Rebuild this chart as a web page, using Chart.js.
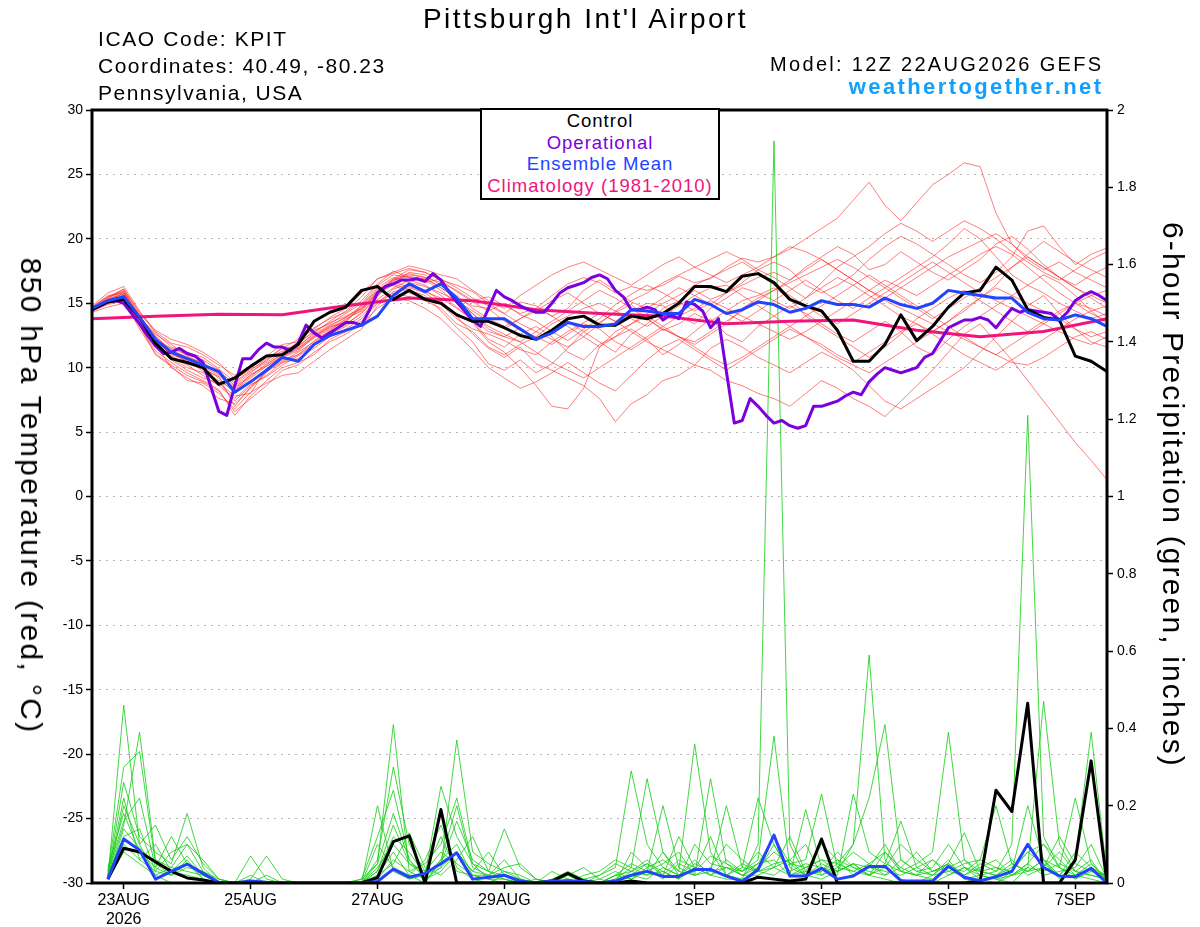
<!DOCTYPE html>
<html>
<head>
<meta charset="utf-8">
<title>Pittsburgh Int'l Airport - GEFS 850 hPa temperature and precipitation</title>
<script src="https://cdn.jsdelivr.net/npm/chart.js@4.4.1/dist/chart.umd.min.js"></script>
<style>
  html, body { margin: 0; padding: 0; background: #fff; }
  #wrap { position: relative; width: 1200px; height: 927px; overflow: hidden;
          font-family: "Liberation Sans", Arial, sans-serif; color: #000; }
  #chart { position: absolute; left: 0; top: 0; }
  .txt { position: absolute; white-space: nowrap; line-height: 1; }
  #legend { position: absolute; left: 480px; top: 108px; width: 240px; height: 92px;
            box-sizing: border-box; border: 2px solid #000; background: #fff;
            font-size: 18.5px; letter-spacing: 1px; text-align: center; }
  #legend div { line-height: 21.7px; height: 21.7px; }
  .vtitle { position: absolute; white-space: nowrap; line-height: 1; font-size: 30px;
            transform: translate(-50%, -50%) rotate(90deg); }
</style>
</head>
<body>
<div id="wrap">
  <canvas id="chart" width="1200" height="927"></canvas>

  <div class="txt" style="left:0; width:1171px; text-align:center; top:4.6px; font-size:28px; letter-spacing:2.5px;">Pittsburgh Int'l Airport</div>
  <div class="txt" style="left:98px; top:28px; font-size:21px; letter-spacing:1.6px;">ICAO Code: KPIT</div>
  <div class="txt" style="left:98px; top:55px; font-size:21px; letter-spacing:1.5px;">Coordinates: 40.49, -80.23</div>
  <div class="txt" style="left:98px; top:81.5px; font-size:21px; letter-spacing:1.5px;">Pennsylvania, USA</div>
  <div class="txt" style="right:96.7px; top:53.8px; font-size:20px; letter-spacing:2.3px;">Model: 12Z 22AUG2026 GEFS</div>
  <div class="txt" style="right:96.6px; top:76.4px; font-size:22px; font-weight:bold; letter-spacing:2.4px; color:#14a0fa;">weathertogether.net</div>

  <div id="legend">
    <div style="color:#000;">Control</div>
    <div style="color:#7a00e0;">Operational</div>
    <div style="color:#2244ff;">Ensemble Mean</div>
    <div style="color:#f0147c;">Climatology (1981-2010)</div>
  </div>

  <div class="vtitle" style="left:30.6px; top:496px; letter-spacing:2.3px;">850 hPa Temperature (red, °C)</div>
  <div class="vtitle" style="left:1173.4px; top:495px; letter-spacing:2.15px;">6-hour Precipitation (green, inches)</div>
</div>

<script>
// time axis: hours after 12Z 22AUG2026
const tempStep = 6;      // members, control, mean
const operStep = 3;      // operational run is 3-hourly
const climoStep = 24;    // daily climatology
const tickHours = [12, 60, 108, 156, 228, 276, 324, 372];
const tickLabels = ['23AUG', '25AUG', '27AUG', '29AUG', '1SEP', '3SEP', '5SEP', '7SEP'];

// 850 hPa temperature (C), 6-hourly from 12Z 22AUG
const tempControl = [
  14.5, 15.1, 15.3, 13.9, 11.9, 10.7, 10.4, 10.0, 8.7, 9.2, 10.1, 10.9, 11.0, 11.8, 13.6, 14.3, 14.7, 16.0, 16.3, 15.3, 16.0,
  15.3, 15.0, 14.1, 13.6, 13.6, 13.1, 12.5, 12.2, 12.9, 13.8, 14.0, 13.3, 13.3, 14.0, 13.8, 14.2, 15.0, 16.3, 16.3, 15.9, 17.1, 17.3,
  16.6, 15.3, 14.8, 14.4, 12.9, 10.5, 10.5, 11.8, 14.1, 12.1, 13.2, 14.7, 15.8, 16.0, 17.8, 16.8, 14.5, 13.9, 13.7, 10.9, 10.5, 9.7
];
const tempMean = [
  14.6, 15.2, 15.5, 13.9, 12.2, 11.2, 10.7, 10.2, 9.7, 8.1, 8.9, 9.8, 10.8, 10.5, 11.8, 12.5, 12.9, 13.3, 14.0, 15.6, 16.5,
  15.9, 16.5, 15.4, 13.8, 13.8, 13.8, 13.0, 12.2, 12.7, 13.5, 13.2, 13.2, 13.4, 14.5, 14.4, 14.2, 14.2, 15.3, 14.9, 14.2, 14.5, 15.1,
  14.9, 14.3, 14.6, 15.2, 14.9, 14.9, 14.7, 15.4, 14.9, 14.6, 15.0, 16.0, 15.8, 15.6, 15.4, 15.4, 14.3, 13.8, 13.7, 14.1, 13.8, 13.2
];
// operational, 3-hourly
const tempOper = [
  14.5, 14.8, 15.1, 15.2, 15.0, 14.2, 13.4, 12.5,
  11.7, 11.1, 11.2, 11.5, 11.1, 10.9, 10.4, 8.5,
  6.6, 6.3, 8.6, 10.7, 10.7, 11.4, 11.9, 11.6,
  11.6, 11.3, 11.9, 13.3, 12.7, 12.3, 12.7, 13.1,
  13.5, 13.5, 13.3, 14.5, 15.8, 16.3, 16.5, 16.8,
  16.8, 16.9, 16.7, 17.3, 16.8, 15.9, 15.1, 14.4,
  13.7, 13.2, 14.6, 16.0, 15.5, 15.2, 14.8, 14.5,
  14.3, 14.3, 15.0, 15.8, 16.2, 16.4, 16.6, 17.0,
  17.2, 16.9, 16.0, 15.5, 14.5, 14.5, 14.7, 14.5,
  13.7, 14.1, 13.8, 15.1, 14.9, 14.4, 13.1, 13.8,
  9.7, 5.7, 5.9, 7.6, 7.0, 6.3, 5.7, 5.9,
  5.5, 5.3, 5.5, 7.0, 7.0, 7.2, 7.4, 7.8,
  8.1, 7.9, 8.9, 9.5, 10.0, 9.8, 9.6, 9.8,
  10.0, 10.8, 11.1, 12.1, 13.1, 13.4, 13.7, 13.7,
  13.9, 13.7, 13.1, 13.9, 14.6, 14.3, 14.5, 14.4,
  14.3, 14.2, 13.7, 14.3, 15.2, 15.6, 15.9, 15.6,
  15.2
];
// 1981-2010 climatology, daily at 12Z
const tempClimo = [13.8, 14.0, 14.15, 14.1, 14.8, 15.4, 15.2, 14.5, 14.2, 14.0, 13.4, 13.6, 13.7, 12.9, 12.4, 12.8, 13.8];

// ensemble members (subset), 6-hourly
const tempMembers = [
  [14.6, 15.4, 16.0, 14.0, 12.5, 11.2, 10.4, 10.0, 9.2, 8.0, 9.0, 9.8, 10.5, 11.2, 12.0, 12.8, 13.4, 14.2, 15.5, 16.8, 17.2,
   17.0, 16.6, 16.0, 15.2, 15.5, 14.8, 14.2, 14.6, 15.6, 16.5, 17.0, 16.6, 15.8, 16.3, 16.0, 16.4, 17.1, 16.6, 16.9, 17.8, 18.5, 18.2,
   18.6, 19.2, 20.0, 20.8, 21.6, 23.0, 24.4, 22.6, 21.4, 22.8, 24.2, 25.0, 25.9, 25.6, 22.0, 19.6, 18.4, 17.6, 18.2, 17.4, 16.8, 16.2],
  [14.4, 15.0, 15.6, 13.2, 11.3, 10.4, 9.6, 9.0, 8.3, 6.3, 7.8, 9.0, 10.0, 10.4, 11.0, 12.2, 12.8, 13.6, 15.0, 16.1, 16.5,
   16.0, 15.2, 14.0, 12.6, 11.5, 10.8, 11.6, 10.3, 9.8, 9.2, 8.6, 7.6, 5.8, 7.2, 7.9, 9.0, 9.4, 10.2, 9.8, 9.0, 8.6, 8.0,
   7.6, 7.0, 8.0, 9.0, 8.4, 7.6, 7.0, 6.2, 7.4, 8.6, 9.8, 11.2, 12.6, 13.4, 12.0, 10.6, 9.0, 7.4, 5.8, 4.2, 2.8, 1.3],
  [14.8, 15.8, 16.3, 14.4, 12.8, 11.9, 11.6, 11.0, 10.2, 9.4, 10.2, 10.9, 11.8, 12.0, 13.1, 13.8, 14.3, 15.2, 16.5, 17.5, 17.0,
   16.9, 16.2, 15.4, 14.2, 13.0, 12.4, 13.1, 12.2, 12.9, 13.6, 12.8, 12.0, 11.2, 12.6, 13.4, 14.6, 15.2, 16.0, 15.3, 15.8, 16.4, 17.0,
   17.4, 16.8, 17.8, 18.6, 19.4, 18.8, 17.6, 18.0, 19.0, 18.2, 17.4, 16.8, 17.6, 18.4, 19.6, 20.2, 19.2, 18.0, 17.0, 16.4, 17.2, 17.8],
  [14.5, 15.2, 15.5, 13.6, 11.8, 10.0, 9.2, 8.6, 7.6, 7.2, 8.4, 9.6, 10.8, 11.3, 12.4, 13.2, 13.9, 14.8, 16.1, 16.5, 16.0,
   15.6, 14.4, 13.1, 12.0, 10.3, 9.8, 10.6, 9.6, 10.3, 11.5, 12.8, 13.5, 14.3, 14.9, 13.8, 12.9, 13.4, 14.2, 13.6, 14.4, 15.2, 15.6,
   16.2, 15.4, 14.0, 13.2, 12.4, 11.6, 10.8, 11.6, 12.6, 13.8, 14.6, 15.4, 16.0, 15.2, 14.4, 13.6, 12.8, 13.6, 14.4, 15.0, 14.6, 14.0],
  [14.7, 15.6, 15.8, 14.1, 12.2, 11.5, 11.0, 10.6, 9.8, 8.6, 9.6, 10.6, 11.3, 11.9, 12.8, 13.5, 14.0, 14.6, 15.7, 16.9, 17.6,
   17.4, 16.8, 16.4, 15.9, 15.0, 14.2, 15.1, 14.8, 14.0, 14.6, 16.0, 16.8, 16.0, 15.1, 14.6, 15.4, 16.2, 15.6, 14.9, 15.8, 16.6, 17.6,
   18.2, 17.6, 16.4, 15.8, 16.4, 17.2, 18.4, 19.4, 20.2, 19.6, 18.8, 18.0, 17.2, 16.6, 17.4, 18.6, 20.6, 21.0, 19.4, 18.0, 18.8, 19.3],
  [14.3, 14.7, 15.0, 13.3, 11.0, 10.1, 9.0, 8.8, 8.0, 6.8, 8.1, 8.8, 9.4, 9.6, 10.5, 11.4, 12.2, 13.0, 14.8, 15.9, 16.2,
   15.8, 14.9, 13.8, 13.0, 12.6, 12.1, 11.4, 11.0, 12.0, 12.8, 13.5, 14.2, 13.6, 12.8, 12.0, 11.4, 10.8, 10.2, 11.5, 12.2, 11.6, 10.8,
   10.2, 9.6, 10.4, 11.2, 10.6, 9.8, 8.6, 7.4, 6.8, 7.6, 8.4, 9.2, 10.0, 11.2, 12.4, 13.6, 14.8, 15.6, 14.2, 13.0, 12.0, 11.6],
  [14.6, 15.3, 15.9, 13.9, 12.6, 11.8, 10.9, 10.3, 9.5, 8.4, 9.3, 10.3, 11.0, 11.6, 12.7, 13.6, 14.4, 15.5, 16.9, 17.3, 17.7,
   17.4, 16.8, 15.9, 15.1, 14.4, 15.0, 14.1, 13.6, 12.8, 12.1, 13.0, 13.8, 14.9, 15.7, 16.4, 15.8, 15.1, 14.4, 15.0, 14.2, 13.6, 14.4,
   15.2, 16.0, 16.8, 16.0, 15.2, 14.6, 15.4, 16.2, 17.0, 17.8, 18.6, 19.6, 20.8, 20.0, 18.6, 17.2, 16.4, 15.8, 15.0, 14.4, 13.8, 14.2],
  [14.5, 15.1, 15.4, 13.5, 11.6, 10.8, 10.2, 9.4, 8.6, 7.6, 8.7, 9.3, 10.2, 10.9, 11.8, 12.6, 13.2, 14.0, 15.3, 16.2, 16.8,
   16.4, 15.6, 14.7, 13.6, 12.2, 11.6, 12.6, 13.2, 12.4, 11.2, 10.6, 11.8, 12.4, 13.0, 12.2, 11.0, 11.8, 12.8, 13.8, 12.6, 12.0, 13.2,
   14.0, 14.8, 14.2, 13.4, 12.6, 12.0, 12.8, 13.6, 12.8, 11.6, 11.0, 12.2, 13.2, 14.0, 14.8, 15.6, 16.4, 17.2, 16.6, 15.6, 14.4, 13.4],
  [14.7, 15.5, 16.1, 14.2, 12.9, 12.2, 11.8, 11.2, 10.4, 9.1, 9.9, 10.5, 11.6, 11.5, 12.5, 13.2, 13.5, 14.9, 16.2, 17.0, 16.6,
   16.3, 15.8, 15.2, 14.4, 13.6, 13.0, 13.8, 14.4, 15.2, 15.8, 15.0, 14.2, 13.6, 14.4, 15.0, 14.8, 14.0, 13.4, 14.6, 15.4, 16.2, 15.8,
   15.2, 14.6, 15.4, 16.2, 17.0, 16.4, 15.6, 14.8, 14.0, 13.4, 12.8, 13.6, 14.4, 15.4, 16.4, 17.8, 18.8, 19.8, 19.0, 18.2, 17.6, 17.0],
  [14.4, 15.0, 15.3, 13.4, 11.9, 10.6, 9.8, 9.2, 8.8, 7.8, 8.0, 9.9, 10.6, 11.0, 12.1, 12.9, 13.8, 14.4, 15.8, 16.4, 15.8,
   15.4, 15.0, 14.2, 13.5, 12.0, 11.2, 10.0, 8.6, 7.0, 6.8, 8.4, 11.6, 12.8, 13.4, 14.0, 13.2, 12.4, 11.8, 12.6, 13.4, 14.6, 15.4,
   16.0, 16.8, 17.6, 18.4, 17.6, 16.8, 16.0, 15.2, 14.6, 14.0, 13.4, 12.8, 12.2, 11.6, 11.0, 10.4, 10.2, 10.8, 11.6, 12.4, 12.8, 12.2],
  [14.6, 15.3, 15.7, 13.8, 12.1, 11.0, 10.6, 9.7, 9.0, 8.2, 9.5, 10.1, 10.9, 11.4, 12.3, 13.0, 13.6, 14.7, 16.0, 16.9, 17.3,
   17.0, 16.2, 15.4, 14.8, 14.6, 13.6, 12.9, 12.4, 13.4, 14.0, 14.6, 15.0, 14.4, 13.8, 13.2, 14.0, 14.8, 15.6, 16.2, 16.4, 15.6, 14.8,
   14.0, 13.2, 12.4, 11.6, 10.8, 10.2, 9.6, 10.4, 11.2, 12.0, 12.8, 13.6, 14.6, 15.4, 16.2, 15.6, 15.0, 14.4, 13.8, 13.0, 12.4, 12.8],
  [14.5, 15.2, 15.6, 13.7, 12.3, 10.9, 10.3, 9.9, 9.3, 7.0, 8.5, 9.7, 10.4, 10.7, 11.5, 12.4, 13.0, 13.8, 15.1, 15.8, 15.5,
   15.2, 14.6, 13.4, 12.8, 11.6, 11.0, 11.8, 12.4, 11.8, 12.6, 13.4, 13.0, 12.0, 11.4, 12.2, 13.0, 12.4, 11.6, 10.8, 10.2, 10.8, 11.6,
   12.4, 13.2, 14.0, 14.8, 15.6, 16.4, 17.2, 16.4, 15.6, 14.8, 14.0, 13.2, 12.4, 11.6, 11.0, 11.8, 12.6, 13.4, 14.2, 15.0, 15.6, 16.0],
  [14.6, 15.4, 16.1, 14.3, 12.7, 11.6, 11.2, 10.8, 9.9, 8.9, 9.8, 10.7, 11.5, 12.2, 13.0, 13.9, 14.6, 15.8, 16.9, 17.4, 17.9,
   17.6, 17.2, 16.9, 16.0, 15.2, 14.6, 15.6, 16.4, 17.2, 17.8, 18.2, 17.6, 17.0, 16.4, 17.2, 18.0, 18.6, 17.8, 18.4, 19.0, 18.4, 17.6,
   17.0, 16.2, 15.4, 16.6, 17.8, 18.6, 19.4, 20.4, 21.2, 20.6, 19.8, 20.6, 21.4, 20.8, 20.0, 19.0, 18.2, 17.4, 16.8, 17.6, 18.4, 19.0],
  [14.4, 14.9, 15.2, 13.0, 11.1, 10.2, 9.4, 8.9, 8.2, 6.6, 7.6, 8.6, 9.8, 10.2, 11.2, 12.0, 12.6, 13.4, 14.6, 15.4, 15.2,
   14.6, 13.8, 12.6, 11.4, 10.0, 9.2, 8.4, 8.9, 9.6, 10.4, 9.6, 8.8, 8.2, 9.4, 10.6, 11.6, 12.2, 11.4, 10.6, 9.8, 10.6, 11.4,
   12.2, 13.0, 12.4, 11.8, 11.0, 10.4, 11.2, 12.0, 12.8, 13.4, 12.6, 11.8, 11.0, 10.4, 9.8, 10.6, 11.4, 12.2, 13.0, 13.8, 14.4, 14.8],
  [14.7, 15.5, 15.9, 14.0, 12.4, 11.4, 10.8, 10.4, 9.6, 8.8, 9.7, 10.4, 11.2, 11.8, 12.9, 13.4, 14.2, 15.0, 16.4, 17.2, 17.0,
   16.6, 16.9, 16.2, 15.4, 14.8, 14.2, 13.4, 12.8, 12.2, 11.6, 12.4, 13.4, 14.4, 15.2, 15.8, 16.6, 17.2, 17.8, 17.2, 16.6, 17.2, 17.8,
   18.6, 19.4, 19.0, 18.4, 17.6, 16.8, 16.0, 15.4, 16.2, 17.0, 17.8, 18.6, 19.2, 19.8, 20.4, 19.6, 18.6, 17.8, 17.0, 16.2, 15.6, 15.0],
  [14.5, 15.1, 15.5, 13.6, 11.7, 10.7, 10.0, 9.6, 8.9, 7.4, 8.6, 9.4, 10.4, 11.0, 11.9, 12.7, 13.3, 14.3, 15.6, 16.6, 16.3,
   15.9, 15.4, 14.6, 13.8, 12.8, 12.4, 12.0, 11.2, 10.4, 9.8, 9.2, 10.0, 10.8, 11.6, 12.4, 13.2, 14.0, 14.6, 15.2, 14.6, 14.0, 13.4,
   12.8, 12.2, 12.8, 13.6, 14.4, 15.2, 16.0, 16.8, 16.2, 15.6, 16.4, 17.2, 18.0, 18.8, 19.4, 18.8, 17.8, 16.8, 15.8, 15.0, 14.2, 13.6],
  [14.6, 15.2, 15.8, 13.8, 12.0, 11.1, 10.5, 10.1, 9.4, 8.2, 9.2, 10.1, 10.9, 11.5, 12.4, 13.1, 13.7, 14.5, 15.9, 16.7, 17.4,
   17.2, 16.4, 15.6, 14.6, 13.8, 13.2, 13.8, 14.6, 14.0, 13.2, 12.4, 11.6, 12.4, 13.4, 14.2, 15.0, 15.6, 16.4, 17.0, 17.6, 18.2, 17.4,
   16.4, 15.6, 14.8, 14.0, 13.4, 14.2, 15.0, 15.8, 16.6, 17.4, 18.2, 17.4, 16.6, 15.8, 15.2, 14.6, 14.0, 13.4, 12.8, 12.2, 11.8, 12.4],
  [14.5, 15.3, 15.7, 13.9, 12.2, 11.3, 10.8, 10.2, 9.6, 8.5, 9.4, 10.2, 11.1, 11.7, 12.6, 13.3, 13.9, 14.6, 15.9, 16.8, 17.1,
   16.8, 16.0, 15.0, 14.2, 13.2, 12.6, 12.0, 12.8, 13.6, 14.4, 15.2, 16.0, 15.4, 14.6, 13.8, 13.0, 12.4, 12.0, 12.8, 13.6, 14.4, 15.2,
   16.0, 16.6, 17.2, 17.8, 18.4, 17.8, 17.0, 16.2, 15.4, 14.6, 13.8, 14.6, 15.4, 16.2, 17.0, 17.8, 18.6, 17.8, 17.0, 16.2, 15.4, 14.6]
];

// 6-hour precipitation (inches), valid 18Z 22AUG onward
const precipControl = [
  0.01, 0.09, 0.08, 0.055, 0.03, 0.013, 0.008, 0,
  0, 0, 0, 0, 0, 0, 0, 0,
  0, 0.014, 0.107, 0.122, 0, 0.19, 0, 0,
  0, 0, 0, 0, 0.005, 0.025, 0.005, 0,
  0, 0.005, 0, 0, 0, 0, 0, 0,
  0, 0.015, 0.01, 0.005, 0.01, 0.114, 0, 0,
  0, 0, 0, 0, 0, 0, 0, 0.005,
  0.24, 0.185, 0.465, 0, 0, 0.06, 0.316, 0
];
const precipMean = [
  0.01, 0.114, 0.085, 0.01, 0.03, 0.049, 0.025, 0.002,
  0, 0.005, 0.002, 0, 0, 0, 0, 0,
  0, 0.004, 0.036, 0.015, 0.025, 0.05, 0.078, 0.01,
  0.015, 0.02, 0.005, 0, 0.005, 0.005, 0.004, 0,
  0.005, 0.02, 0.03, 0.017, 0.017, 0.035, 0.035, 0.018,
  0.004, 0.035, 0.124, 0.018, 0.018, 0.038, 0.01, 0.018,
  0.043, 0.043, 0.006, 0.005, 0.005, 0.043, 0.015, 0.006,
  0.016, 0.03, 0.1, 0.04, 0.018, 0.016, 0.038, 0
];
const precipMembers = [
  [0.01,0.46,0.10,0.02,0.00,0.00,0.00,0.00, 0,0,0,0,0,0,0,0,
   0.00,0.02,0.08,0.02,0.00,0.06,0.10,0.02, 0.01,0.00,0.00,0.00,0.00,0.01,0.00,0.00,
   0.00,0.02,0.05,0.03,0.01,0.04,0.02,0.01, 0.01,0.10,1.92,0.10,0.02,0.01,0.03,0.05,
   0.02,0.01,0.00,0.00,0.02,0.05,0.01,0.00, 0.00,0.03,0.20,0.06,0.01,0.02,0.05,0.01],
  [0.02,0.15,0.39,0.06,0.04,0.10,0.03,0.01, 0,0,0,0,0,0,0,0,
   0.01,0.05,0.41,0.03,0.01,0.04,0.37,0.08, 0.05,0.03,0.02,0.00,0.00,0.00,0.01,0.02,
   0.04,0.29,0.10,0.04,0.02,0.06,0.02,0.04, 0.02,0.05,0.12,0.05,0.02,0.05,0.03,0.10,
   0.59,0.06,0.01,0.00,0.00,0.02,0.04,0.01, 0.00,0.02,0.05,0.10,0.04,0.01,0.03,0.02],
  [0.03,0.30,0.34,0.05,0.02,0.06,0.01,0.00, 0.00,0.01,0.07,0.01,0,0,0,0,
   0.00,0.20,0.03,0.01,0.02,0.25,0.12,0.05, 0.03,0.14,0.04,0.01,0.00,0.00,0.00,0.01,
   0.03,0.01,0.04,0.06,0.03,0.36,0.08,0.02, 0.04,0.03,0.10,0.02,0.04,0.06,0.05,0.10,
   0.22,0.41,0.06,0.03,0.02,0.06,0.01,0.02, 0.01,0.00,0.04,0.47,0.10,0.03,0.02,0.01],
  [0.02,0.26,0.12,0.08,0.05,0.18,0.04,0.00, 0,0,0,0,0,0,0,0,
   0.00,0.06,0.30,0.10,0.03,0.08,0.05,0.02, 0.02,0.04,0.05,0.01,0.00,0.02,0.00,0.00,
   0.01,0.04,0.27,0.08,0.02,0.03,0.07,0.05, 0.03,0.06,0.38,0.04,0.02,0.03,0.06,0.02,
   0.04,0.10,0.03,0.05,0.08,0.39,0.06,0.02, 0.03,0.10,1.21,0.12,0.04,0.02,0.01,0.00],
  [0.01,0.20,0.10,0.15,0.06,0.12,0.05,0.01, 0.00,0.07,0.01,0,0,0,0,0,
   0.00,0.03,0.15,0.05,0.02,0.06,0.20,0.04, 0.02,0.06,0.01,0.00,0.01,0.03,0.01,0.00,
   0.02,0.05,0.03,0.20,0.04,0.02,0.27,0.05, 0.02,0.04,0.08,0.05,0.06,0.23,0.04,0.03,
   0.05,0.08,0.04,0.02,0.03,0.05,0.13,0.03, 0.02,0.04,0.08,0.05,0.02,0.06,0.39,0.02],
  [0.03,0.16,0.22,0.04,0.12,0.05,0.02,0.00, 0,0,0,0,0,0,0,0,
   0.01,0.12,0.24,0.06,0.01,0.03,0.08,0.03, 0.08,0.02,0.00,0.00,0.00,0.01,0.00,0.00,
   0.02,0.03,0.05,0.02,0.06,0.04,0.03,0.20, 0.04,0.22,0.10,0.03,0.05,0.04,0.02,0.23,
   0.08,0.05,0.16,0.04,0.02,0.03,0.05,0.06, 0.04,0.02,0.03,0.06,0.04,0.22,0.05,0.01],
  [0.02,0.12,0.14,0.03,0.08,0.10,0.06,0.01, 0,0,0,0,0,0,0,0,
   0.00,0.02,0.05,0.13,0.04,0.02,0.06,0.12, 0.03,0.01,0.00,0.00,0.00,0.02,0.04,0.01,
   0.00,0.03,0.06,0.02,0.12,0.04,0.02,0.06, 0.03,0.05,0.06,0.02,0.19,0.04,0.03,0.05,
   0.02,0.08,0.03,0.02,0.01,0.04,0.03,0.06, 0.20,0.05,0.03,0.04,0.12,0.05,0.03,0.02],
  [0.01,0.08,0.05,0.02,0.04,0.03,0.02,0.00, 0.00,0.00,0.02,0,0,0,0,0,
   0.00,0.04,0.10,0.05,0.03,0.12,0.03,0.02, 0.01,0.01,0.00,0.00,0.03,0.01,0.00,0.00,
   0.01,0.02,0.01,0.04,0.02,0.05,0.03,0.02, 0.01,0.03,0.05,0.06,0.02,0.03,0.08,0.04,
   0.03,0.02,0.06,0.03,0.04,0.10,0.04,0.02, 0.01,0.02,0.05,0.02,0.03,0.04,0.10,0.01],
  [0.02,0.22,0.06,0.10,0.03,0.07,0.02,0.00, 0,0,0,0,0,0,0,0,
   0.00,0.10,0.04,0.02,0.06,0.15,0.04,0.01, 0.00,0.02,0.01,0.00,0.00,0.00,0.00,0.02,
   0.05,0.03,0.02,0.03,0.01,0.10,0.05,0.04, 0.02,0.02,0.04,0.12,0.03,0.02,0.05,0.03,
   0.02,0.04,0.10,0.06,0.03,0.05,0.02,0.04, 0.06,0.02,0.04,0.03,0.05,0.03,0.06,0.00],
  [0.04,0.18,0.08,0.04,0.02,0.04,0.03,0.00, 0,0,0,0,0,0,0,0,
   0.00,0.03,0.12,0.08,0.02,0.05,0.16,0.06, 0.03,0.02,0.00,0.01,0.00,0.00,0.00,0.00,
   0.00,0.08,0.04,0.01,0.05,0.03,0.12,0.02, 0.05,0.03,0.02,0.05,0.04,0.06,0.03,0.05,
   0.04,0.03,0.02,0.04,0.06,0.02,0.04,0.03, 0.02,0.05,0.03,0.06,0.02,0.08,0.04,0.01],
  [0.02,0.10,0.06,0.03,0.02,0.05,0.01,0.00, 0,0,0,0,0,0,0,0,
   0.00,0.05,0.18,0.06,0.02,0.04,0.08,0.03, 0.02,0.01,0.00,0.00,0.00,0.00,0.02,0.03,
   0.06,0.04,0.02,0.08,0.03,0.02,0.04,0.10, 0.06,0.03,0.04,0.02,0.03,0.10,0.06,0.04,
   0.02,0.05,0.03,0.02,0.06,0.03,0.02,0.05, 0.03,0.06,0.02,0.04,0.08,0.03,0.02,0.01],
  [0.01,0.14,0.09,0.05,0.03,0.02,0.01,0.00, 0.00,0.02,0.00,0,0,0,0,0,
   0.00,0.01,0.06,0.03,0.05,0.10,0.22,0.05, 0.01,0.03,0.01,0.00,0.00,0.01,0.00,0.00,
   0.02,0.01,0.03,0.05,0.08,0.02,0.03,0.04, 0.03,0.08,0.04,0.06,0.10,0.02,0.04,0.08,
   0.05,0.02,0.04,0.08,0.03,0.04,0.06,0.03, 0.04,0.03,0.08,0.10,0.06,0.02,0.04,0.02]
];

const FONT = '"Liberation Sans", Arial, sans-serif';

function points(values, step, offset) {
  return values.map((v, i) => ({ x: offset + i * step, y: v }));
}

function line(values, step, offset, color, width, axis, order) {
  return {
    data: points(values, step, offset),
    borderColor: color,
    borderWidth: width,
    yAxisID: axis,
    order: order
  };
}

const datasets = [
  line(tempMean, tempStep, 0, '#2244ff', 3, 'y', 1),
  line(tempControl, tempStep, 0, '#000000', 3, 'y', 2),
  line(tempOper, operStep, 0, '#7a00e0', 3, 'y', 3),
  line(tempClimo, climoStep, 0, '#f0147c', 3, 'y', 4),
  line(precipMean, tempStep, tempStep, '#2244ff', 3, 'y2', 5),
  line(precipControl, tempStep, tempStep, '#000000', 3, 'y2', 6)
];
precipMembers.forEach(m => datasets.push(line(m, tempStep, tempStep, 'rgba(20,205,20,0.8)', 1, 'y2', 7)));
tempMembers.forEach(m => datasets.push(line(m, tempStep, 0, 'rgba(255,40,40,0.6)', 1, 'y', 8)));

// black frame round the plot area
const frame = {
  id: 'frame',
  afterDatasetsDraw(chart) {
    const { ctx, chartArea: a } = chart;
    ctx.save();
    ctx.strokeStyle = '#000';
    ctx.lineWidth = 3;
    ctx.strokeRect(a.left, a.top, a.right - a.left, a.bottom - a.top);
    ctx.restore();
  }
};

new Chart(document.getElementById('chart'), {
  type: 'line',
  data: { datasets: datasets },
  plugins: [frame],
  options: {
    responsive: false,
    animation: false,
    devicePixelRatio: 1,
    layout: { padding: { top: 110, left: 0, right: 0, bottom: 0 } },
    elements: {
      point: { radius: 0 },
      line: { tension: 0, borderJoinStyle: 'round', fill: false }
    },
    plugins: { legend: { display: false }, tooltip: { enabled: false } },
    scales: {
      x: {
        type: 'linear',
        min: 0,
        max: 384,
        afterBuildTicks: (scale) => { scale.ticks = tickHours.map(h => ({ value: h })); },
        afterFit: (scale) => { scale.height = 44; },
        ticks: {
          autoSkip: false,
          maxRotation: 0,
          padding: 2,
          color: '#000',
          font: { family: FONT, size: 16 },
          callback: (v) => {
            const k = tickHours.indexOf(v);
            if (k < 0) return '';
            return k === 0 ? [tickLabels[k], '2026'] : tickLabels[k];
          }
        },
        grid: { drawOnChartArea: false, tickLength: 6, tickColor: '#000', tickWidth: 1.5 },
        border: { display: false }
      },
      y: {
        position: 'left',
        min: -30,
        max: 30,
        afterFit: (scale) => { scale.width = 92; },
        ticks: { stepSize: 5, padding: 3, color: '#000', font: { family: FONT, size: 14 } },
        grid: { color: '#b4b4b4', lineWidth: 1, borderDash: [2, 5], tickLength: 6, tickColor: '#000', tickWidth: 1.5, tickBorderDash: [] },
        border: { display: false, dash: [2, 5] }
      },
      y2: {
        position: 'right',
        min: 0,
        max: 2,
        afterFit: (scale) => { scale.width = 93; },
        ticks: {
          stepSize: 0.2,
          padding: 4,
          color: '#000',
          font: { family: FONT, size: 14 },
          callback: (v) => String(Number(v.toFixed(1)))
        },
        grid: { drawOnChartArea: false, tickLength: 6, tickColor: '#000', tickWidth: 1.5 },
        border: { display: false }
      }
    }
  }
});
</script>
</body>
</html>
